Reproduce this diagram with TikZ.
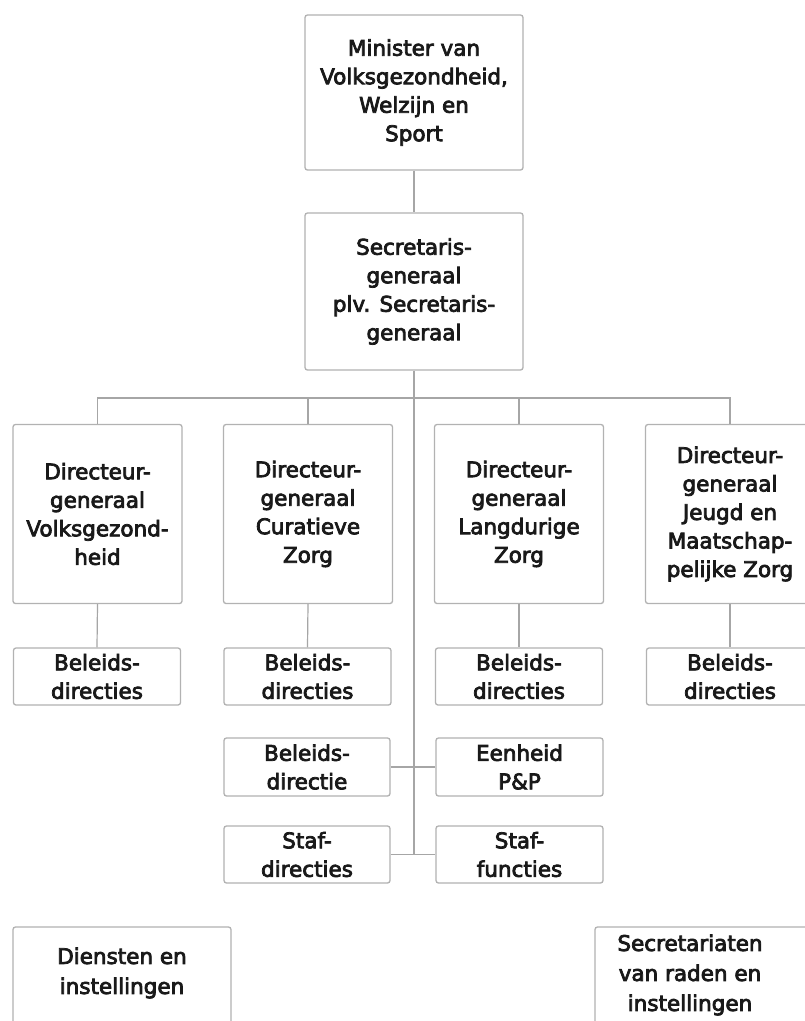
\documentclass[tikz,border=0pt]{standalone}
\usepackage{fontspec}
\setmainfont{DejaVu Sans}[RawFeature={embolden=3.5}]
\begin{document}
\begin{tikzpicture}[x=1pt,y=-1pt,
  box/.style={draw=gray!60,line width=1.3pt,rounded corners=2.5pt,fill=white,
    align=center,inner sep=0pt,text=black!90,
    font=\fontsize{21.5}{28.5}\selectfont},
  lbl/.style={align=center,text=black!90,font=\fontsize{21.5}{30}\selectfont},
  link/.style={draw=gray!70,line width=1.2pt}]
\useasboundingbox (0,0) rectangle (805,1021);
\fill[white] (0,0) rectangle (805,1021);
% top
\node[box,minimum width=218pt,minimum height=155pt] (min) at (414,92.5)
  {Minister van\\Volksgezondheid,\\Welzijn en\\Sport};
\node[box,minimum width=218pt,minimum height=157pt] (sg) at (414,291.5)
  {Secretaris-\\generaal\\plv. Secretaris-\\generaal};
% directors-general
\node[box,minimum width=169pt,minimum height=179pt] (dg1) at (97.5,514)
  {Directeur-\\generaal\\Volksgezond-\\heid};
\node[box,minimum width=169pt,minimum height=179pt] (dg2) at (308,514)
  {Directeur-\\generaal\\Curatieve\\Zorg};
\node[box,minimum width=169pt,minimum height=179pt] (dg3) at (519,514)
  {Directeur-\\generaal\\Langdurige\\Zorg};
\node[box,minimum width=169pt,minimum height=179pt] (dg4) at (730,514)
  {Directeur-\\generaal\\Jeugd en\\Maatschap-\\pelijke Zorg};
% policy directorates
\node[box,minimum width=167pt,minimum height=57pt] (b1) at (97,676.5) {Beleids-\\directies};
\node[box,minimum width=167pt,minimum height=57pt] (b2) at (307.5,676.5) {Beleids-\\directies};
\node[box,minimum width=167pt,minimum height=57pt] (b3) at (519,676.5) {Beleids-\\directies};
\node[box,minimum width=167pt,minimum height=57pt] (b4) at (730,676.5) {Beleids-\\directies};
% staff units
\node[box,minimum width=166pt,minimum height=58pt] (bd) at (307,767) {Beleids-\\directie};
\node[box,minimum width=167pt,minimum height=58pt] (ep) at (519.5,767) {Eenheid\\P\&P};
\node[box,minimum width=166pt,minimum height=57pt] (sd) at (307,854.5) {Staf-\\directies};
\node[box,minimum width=167pt,minimum height=57pt] (sf) at (519.5,854.5) {Staf-\\functies};
% bottom
\node[box,minimum width=218pt,minimum height=110pt] (di) at (122,982) {};
\node[lbl] (dit) at (122,973) {Diensten en\\instellingen};
\node[box,minimum width=222pt,minimum height=110pt] (se) at (706,982) {};
\node[lbl] (set) at (690,975) {Secretariaten\\van raden en\\instellingen};
% connectors
\coordinate (bus) at (414,398);
\draw[link] (min.south) -- (sg.north);
\draw[link] (sg.south) -- (sg.south |- sf.west);
\draw[link] (dg1.north) -- (dg1.north |- bus) -- (dg4.north |- bus) -- (dg4.north);
\draw[link] (dg2.north) -- (dg2.north |- bus);
\draw[link] (dg3.north) -- (dg3.north |- bus);
\draw[link] (dg1.south) -- (b1.north);
\draw[link] (dg2.south) -- (b2.north);
\draw[link] (dg3.south) -- (b3.north);
\draw[link] (dg4.south) -- (b4.north);
\draw[link] (bd.east) -- (ep.west);
\draw[link] (sd.east) -- (sf.west);
\end{tikzpicture}
\end{document}
